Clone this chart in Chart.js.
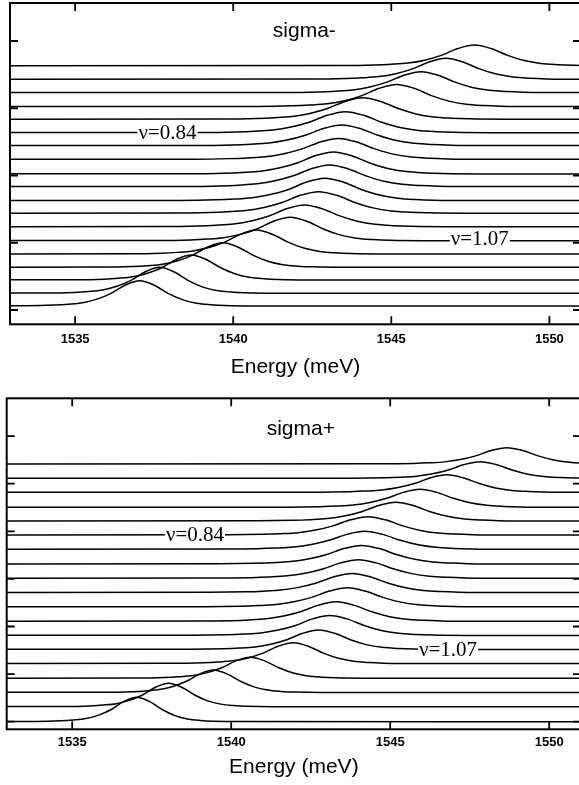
<!DOCTYPE html>
<html><head><meta charset="utf-8">
<script src="https://cdn.jsdelivr.net/npm/chart.js@4/dist/chart.umd.min.js"></script>
<style>
html,body{margin:0;padding:0;background:#fff;overflow:hidden;width:579px;height:785px;}
#top{position:absolute;left:0;top:0;width:584px;height:390px;}
#bot{position:absolute;left:0;top:390px;width:584px;height:395px;}
</style></head><body>
<div id="top"><canvas id="c1"></canvas></div>
<div id="bot"><canvas id="c2"></canvas></div>
<script>
// ---- shared axis data ----
const energyTicks = [1535, 1540, 1545, 1550];
const energyMin = 1532.94, energyMax = 1551.0;
const axisTitle = 'Energy (meV)';

// ---- sigma- panel (offset baselines, peak energies, peak heights, half widths) ----
const sigMinusBase  = [0.30, 1.24, 2.23, 3.17, 4.16, 5.15, 6.19, 7.19, 8.13, 9.17, 10.11, 11.20, 12.22, 13.18, 14.18, 15.12, 16.16, 17.15, 18.16];
const sigMinusPeakE = [1537.04, 1537.67, 1538.67, 1539.67, 1540.73, 1541.80, 1542.25, 1542.70, 1542.90, 1543.05, 1543.17, 1543.33, 1543.43, 1543.55, 1544.10, 1545.17, 1545.94, 1546.73, 1547.63];
const sigMinusPeakH = [1.88, 1.93, 1.86, 1.83, 1.78, 1.75, 1.61, 1.61, 1.67, 1.61, 1.64, 1.56, 1.54, 1.56, 1.60, 1.64, 1.56, 1.56, 1.54];
const sigMinusHW    = [0.90, 0.90, 0.92, 0.95, 1.00, 1.05, 1.12, 1.15, 1.15, 1.15, 1.15, 1.15, 1.15, 1.15, 1.12, 1.10, 1.08, 1.06, 1.05];
const sigMinusYTicks = [0, 5, 10, 15, 20];
const sigMinusLabels = [
  {text: 'sigma-', x: 1542.25, y: 20.28, kind: 'title'},
  {text: 'ν=0.84', x: 1537.92, y: 13.18, kind: 'nu'},
  {text: 'ν=1.07', x: 1547.80, y: 5.30, kind: 'nu'}
];

// ---- sigma+ panel ----
const sigPlusBase  = [0, 3.15, 6.13, 9.12, 12.21, 15.17, 18.11, 21.09, 24.12, 27.14, 30.13, 33.13, 36.22, 39.22, 42.16, 45.04, 48.19, 51.13, 54.14];
const sigPlusPeakE = [1537.03, 1538.03, 1539.44, 1540.60, 1541.95, 1542.75, 1543.10, 1543.30, 1543.65, 1543.80, 1544.00, 1544.10, 1544.20, 1544.30, 1545.18, 1545.94, 1546.78, 1547.83, 1548.67];
const sigPlusPeakH = [5.13, 4.92, 4.73, 4.41, 4.40, 4.10, 4.20, 4.10, 4.00, 4.00, 3.90, 3.90, 3.78, 3.84, 3.93, 3.78, 3.68, 3.49, 3.42];
const sigPlusHW    = [0.80, 0.82, 0.85, 0.90, 0.95, 1.00, 1.08, 1.10, 1.12, 1.12, 1.12, 1.12, 1.12, 1.10, 1.08, 1.05, 1.02, 1.00, 0.98];
const sigPlusYTicks = [0, 10, 20, 30, 40, 50, 60];
const sigPlusLabels = [
  {text: 'sigma+', x: 1542.19, y: 60.23, kind: 'title'},
  {text: 'ν=0.84', x: 1538.86, y: 39.40, kind: 'nu'},
  {text: 'ν=1.07', x: 1546.82, y: 15.17, kind: 'nu'}
];

// ---- measured line shape (offset in half-widths, relative height) ----
const lineShapeDE  = [-4, -3, -2.5, -2, -1.5, -1, -0.5, 0, 0.5, 1, 1.5, 2, 2.5, 3, 4];
const lineShapeRel = [0.01, 0.035, 0.07, 0.13, 0.27, 0.5, 0.83, 1, 0.83, 0.5, 0.25, 0.11, 0.05, 0.02, 0.003];

function buildDatasets(base, pe, ph, hw) {
  return base.map((b, i) => {
    const pts = [{x: 1520, y: b}];
    lineShapeDE.forEach((d, k) => pts.push({x: pe[i] + d * hw[i], y: b + ph[i] * lineShapeRel[k]}));
    pts.push({x: 1565, y: b});
    return {data: pts, borderColor: '#000', borderWidth: 1.5, pointRadius: 0,
            cubicInterpolationMode: 'monotone', fill: false};
  });
}

const framePlugin = {
  id: 'frame',
  afterDraw(chart) {
    const {ctx, chartArea: {left, top, right, bottom}, scales: {x, y}} = chart;
    ctx.save();
    ctx.strokeStyle = '#000';
    ctx.lineWidth = 2;
    ctx.strokeRect(left, top, right - left, bottom - top);
    ctx.lineWidth = 1.8;
    ctx.beginPath();
    x.ticks.forEach(t => {
      const px = x.getPixelForValue(t.value);
      ctx.moveTo(px, bottom); ctx.lineTo(px, bottom - 8);
      ctx.moveTo(px, top); ctx.lineTo(px, top + 8);
    });
    y.ticks.forEach(t => {
      const py = y.getPixelForValue(t.value);
      ctx.moveTo(left, py); ctx.lineTo(left + 8, py);
      ctx.moveTo(right, py); ctx.lineTo(right - 8, py);
    });
    ctx.stroke();
    ctx.restore();
  }
};

const labelPlugin = {
  id: 'panelLabels',
  afterDatasetsDraw(chart, args, opts) {
    const {ctx, scales: {x, y}} = chart;
    ctx.save();
    (opts.items || []).forEach(it => {
      const px = x.getPixelForValue(it.x), py = y.getPixelForValue(it.y);
      if (it.kind === 'title') {
        ctx.font = '21px "Liberation Sans", Arial, sans-serif';
        ctx.fillStyle = '#000';
        ctx.textAlign = 'center';
        ctx.textBaseline = 'alphabetic';
        ctx.fillText(it.text, px, py);
      } else {
        ctx.font = '21px "Liberation Serif", "Times New Roman", serif';
        const w = ctx.measureText(it.text).width;
        ctx.fillStyle = '#fff';
        ctx.fillRect(px - w / 2 - 1, py - 8, w + 2, 16);
        ctx.fillStyle = '#000';
        ctx.textAlign = 'center';
        ctx.textBaseline = 'middle';
        ctx.fillText(it.text, px, py + 1);
      }
    });
    ctx.restore();
  }
};

function makeChart(id, datasets, yMin, yMax, yTicks, labels, pad, tickPad, titlePad, axisH) {
  return new Chart(document.getElementById(id), {
    type: 'line',
    data: {datasets},
    plugins: [framePlugin, labelPlugin],
    options: {
      responsive: true, maintainAspectRatio: false, animation: false,
      layout: {padding: pad},
      plugins: {legend: {display: false}, tooltip: {enabled: false}, panelLabels: {items: labels}},
      scales: {
        x: {
          type: 'linear', min: energyMin, max: energyMax, position: 'bottom',
          afterBuildTicks: s => { s.ticks = energyTicks.map(v => ({value: v})); },
          ticks: {font: {size: 13, weight: 'bold', family: '"Liberation Sans", Arial, sans-serif'}, color: '#000',
                  padding: tickPad, maxRotation: 0, autoSkip: false, callback: v => String(v)},
          grid: {display: false, drawTicks: false}, border: {display: false},
          title: {display: true, text: axisTitle, color: '#000',
                  font: {size: 21, family: '"Liberation Sans", Arial, sans-serif'}, padding: {top: 0, bottom: titlePad}},
          afterFit: s => { s.height = axisH; }
        },
        y: {
          type: 'linear', min: yMin, max: yMax,
          afterBuildTicks: s => { s.ticks = yTicks.map(v => ({value: v})); },
          ticks: {display: false}, grid: {display: false, drawTicks: false}, border: {display: false},
          afterFit: s => { s.width = 0; }
        }
      }
    }
  });
}

makeChart('c1', buildDatasets(sigMinusBase, sigMinusPeakE, sigMinusPeakH, sigMinusHW),
  -1.063, 22.825, sigMinusYTicks, sigMinusLabels, {top: 3, left: 10, right: 3, bottom: 0}, 7, 10, 65.7);
makeChart('c2', buildDatasets(sigPlusBase, sigPlusPeakE, sigPlusPeakH, sigPlusHW),
  -1.597, 67.94, sigPlusYTicks, sigPlusLabels, {top: 8.3, left: 6.7, right: 3, bottom: 0}, 5.7, 4.9, 55.7);
</script>
</body></html>
